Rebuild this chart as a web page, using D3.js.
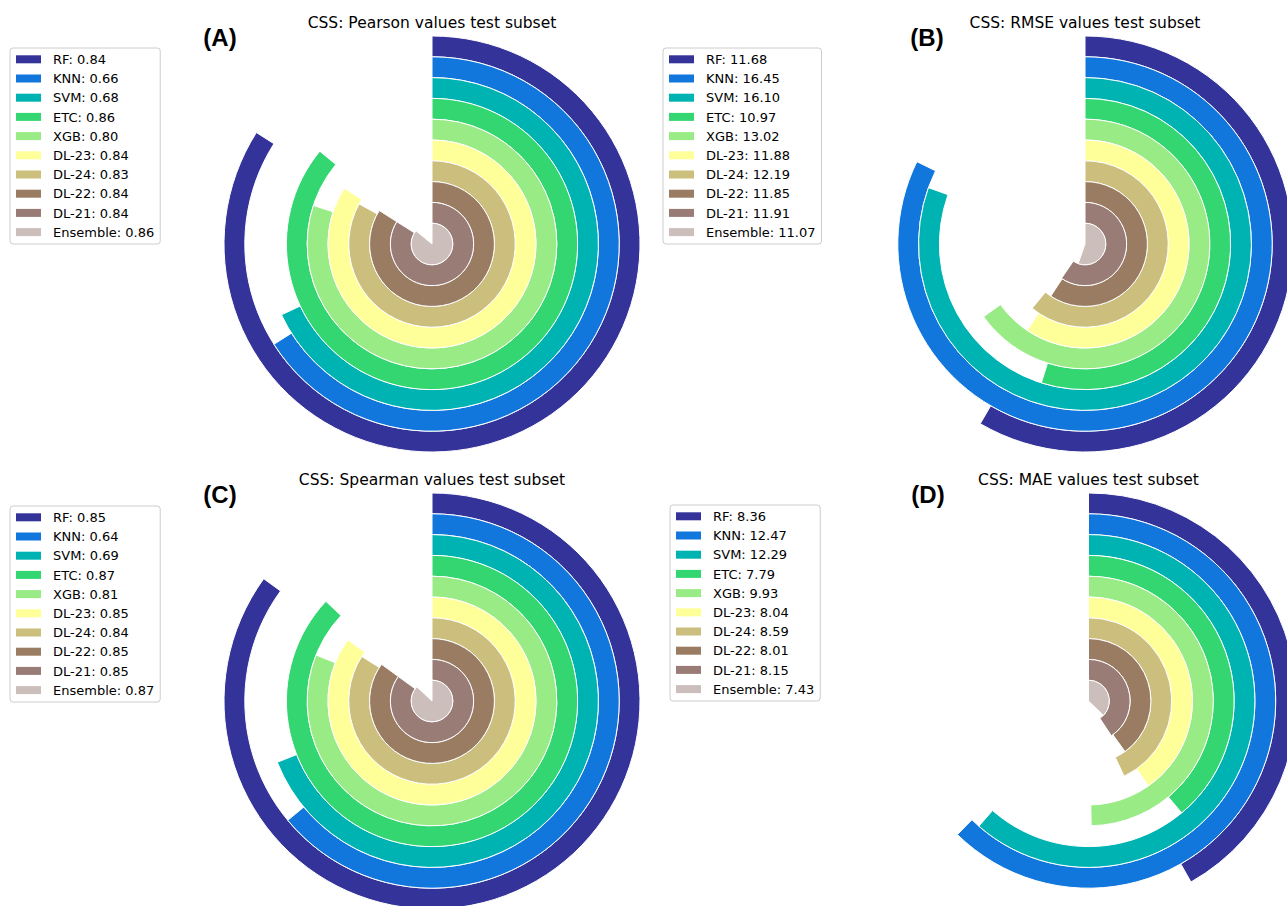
<!DOCTYPE html>
<html>
<head>
<meta charset="utf-8">
<script src="https://cdn.jsdelivr.net/npm/d3@7"></script>
<style>
  html, body { margin: 0; padding: 0; background: #fff; }
  svg { display: block; font-family: "DejaVu Sans", sans-serif; }
</style>
</head>
<body>
<svg id="chart" width="1287" height="906"></svg>
<script>
// ---- data ----
const models = ["RF", "KNN", "SVM", "ETC", "XGB", "DL-23", "DL-24", "DL-22", "DL-21", "Ensemble"];
const pearson = [0.84, 0.66, 0.68, 0.86, 0.80, 0.84, 0.83, 0.84, 0.84, 0.86];
const rmse = [11.68, 16.45, 16.10, 10.97, 13.02, 11.88, 12.19, 11.85, 11.91, 11.07];
const spearman = [0.85, 0.64, 0.69, 0.87, 0.81, 0.85, 0.84, 0.85, 0.85, 0.87];
const mae = [8.36, 12.47, 12.29, 7.79, 9.93, 8.04, 8.59, 8.01, 8.15, 7.43];
const colors = ["#333399", "#1177dd", "#00b3b3", "#33d670", "#99eb85",
                "#ffff99", "#ccbe7d", "#997c62", "#997c76", "#ccbebb"];

const panels = [
  {label: "(A)", title: "CSS: Pearson values test subset", values: pearson, max: 1,
   cx: 432, cy: 244, lx: 220, ly: 46, legend: {x: 10, y: 48}},
  {label: "(B)", title: "CSS: RMSE values test subset", values: rmse, max: 20,
   cx: 1085, cy: 244, lx: 927, ly: 46, legend: {x: 663, y: 48}},
  {label: "(C)", title: "CSS: Spearman values test subset", values: spearman, max: 1,
   cx: 432, cy: 701, lx: 220, ly: 503, legend: {x: 10, y: 506}},
  {label: "(D)", title: "CSS: MAE values test subset", values: mae, max: 20,
   cx: 1088.5, cy: 701, lx: 928, ly: 503, legend: {x: 670, y: 505}}
];

const R = 208;
const svg = d3.select("#chart");

panels.forEach(p => {
  const g = svg.append("g").attr("transform", `translate(${p.cx},${p.cy})`);
  const rScale = d3.scaleBand().domain(models.slice().reverse()).range([0, R]).padding(0);
  const aScale = d3.scaleLinear().domain([0, p.max]).range([0, 2 * Math.PI]);
  const arc = d3.arc()
    .innerRadius(d => rScale(d.m))
    .outerRadius(d => rScale(d.m) + rScale.bandwidth())
    .startAngle(0)
    .endAngle(d => aScale(d.v));
  const data = models.map((m, i) => ({m, v: p.values[i], c: colors[i]}));
  g.selectAll("path").data(data).join("path")
    .attr("d", arc)
    .attr("fill", d => d.c)
    .attr("stroke", "#fff")
    .attr("stroke-width", 1);

  // title
  svg.append("text")
    .attr("x", p.cx).attr("y", p.cy - 216)
    .attr("text-anchor", "middle")
    .attr("font-size", 15.5)
    .attr("fill", "#000")
    .text(p.title);
  // panel label
  svg.append("text")
    .attr("x", p.lx).attr("y", p.ly)
    .attr("text-anchor", "middle")
    .attr("font-family", "'Liberation Sans', Arial, sans-serif")
    .attr("font-size", 24)
    .attr("font-weight", "bold")
    .attr("fill", "#000")
    .text(p.label);

  // legend
  const lg = svg.append("g").attr("transform", `translate(${p.legend.x},${p.legend.y})`);
  const box = lg.append("rect")
    .attr("fill", "#fff").attr("fill-opacity", 0.8)
    .attr("stroke", "#cccccc").attr("stroke-width", 1)
    .attr("rx", 3).attr("ry", 3);
  let maxW = 0;
  data.forEach((d, i) => {
    const y = 11.3 + i * 19.2;
    lg.append("rect").attr("x", 6).attr("y", y - 4).attr("width", 25).attr("height", 8).attr("fill", d.c);
    const t = lg.append("text").attr("x", 43).attr("y", y + 4.6)
      .attr("font-size", 13).attr("fill", "#000")
      .text(`${d.m}: ${d.v.toFixed(2)}`);
    maxW = Math.max(maxW, t.node().getComputedTextLength());
  });
  box.attr("x", 0).attr("y", 0).attr("width", 43 + maxW + 6).attr("height", 196);
});
</script>
</body>
</html>
